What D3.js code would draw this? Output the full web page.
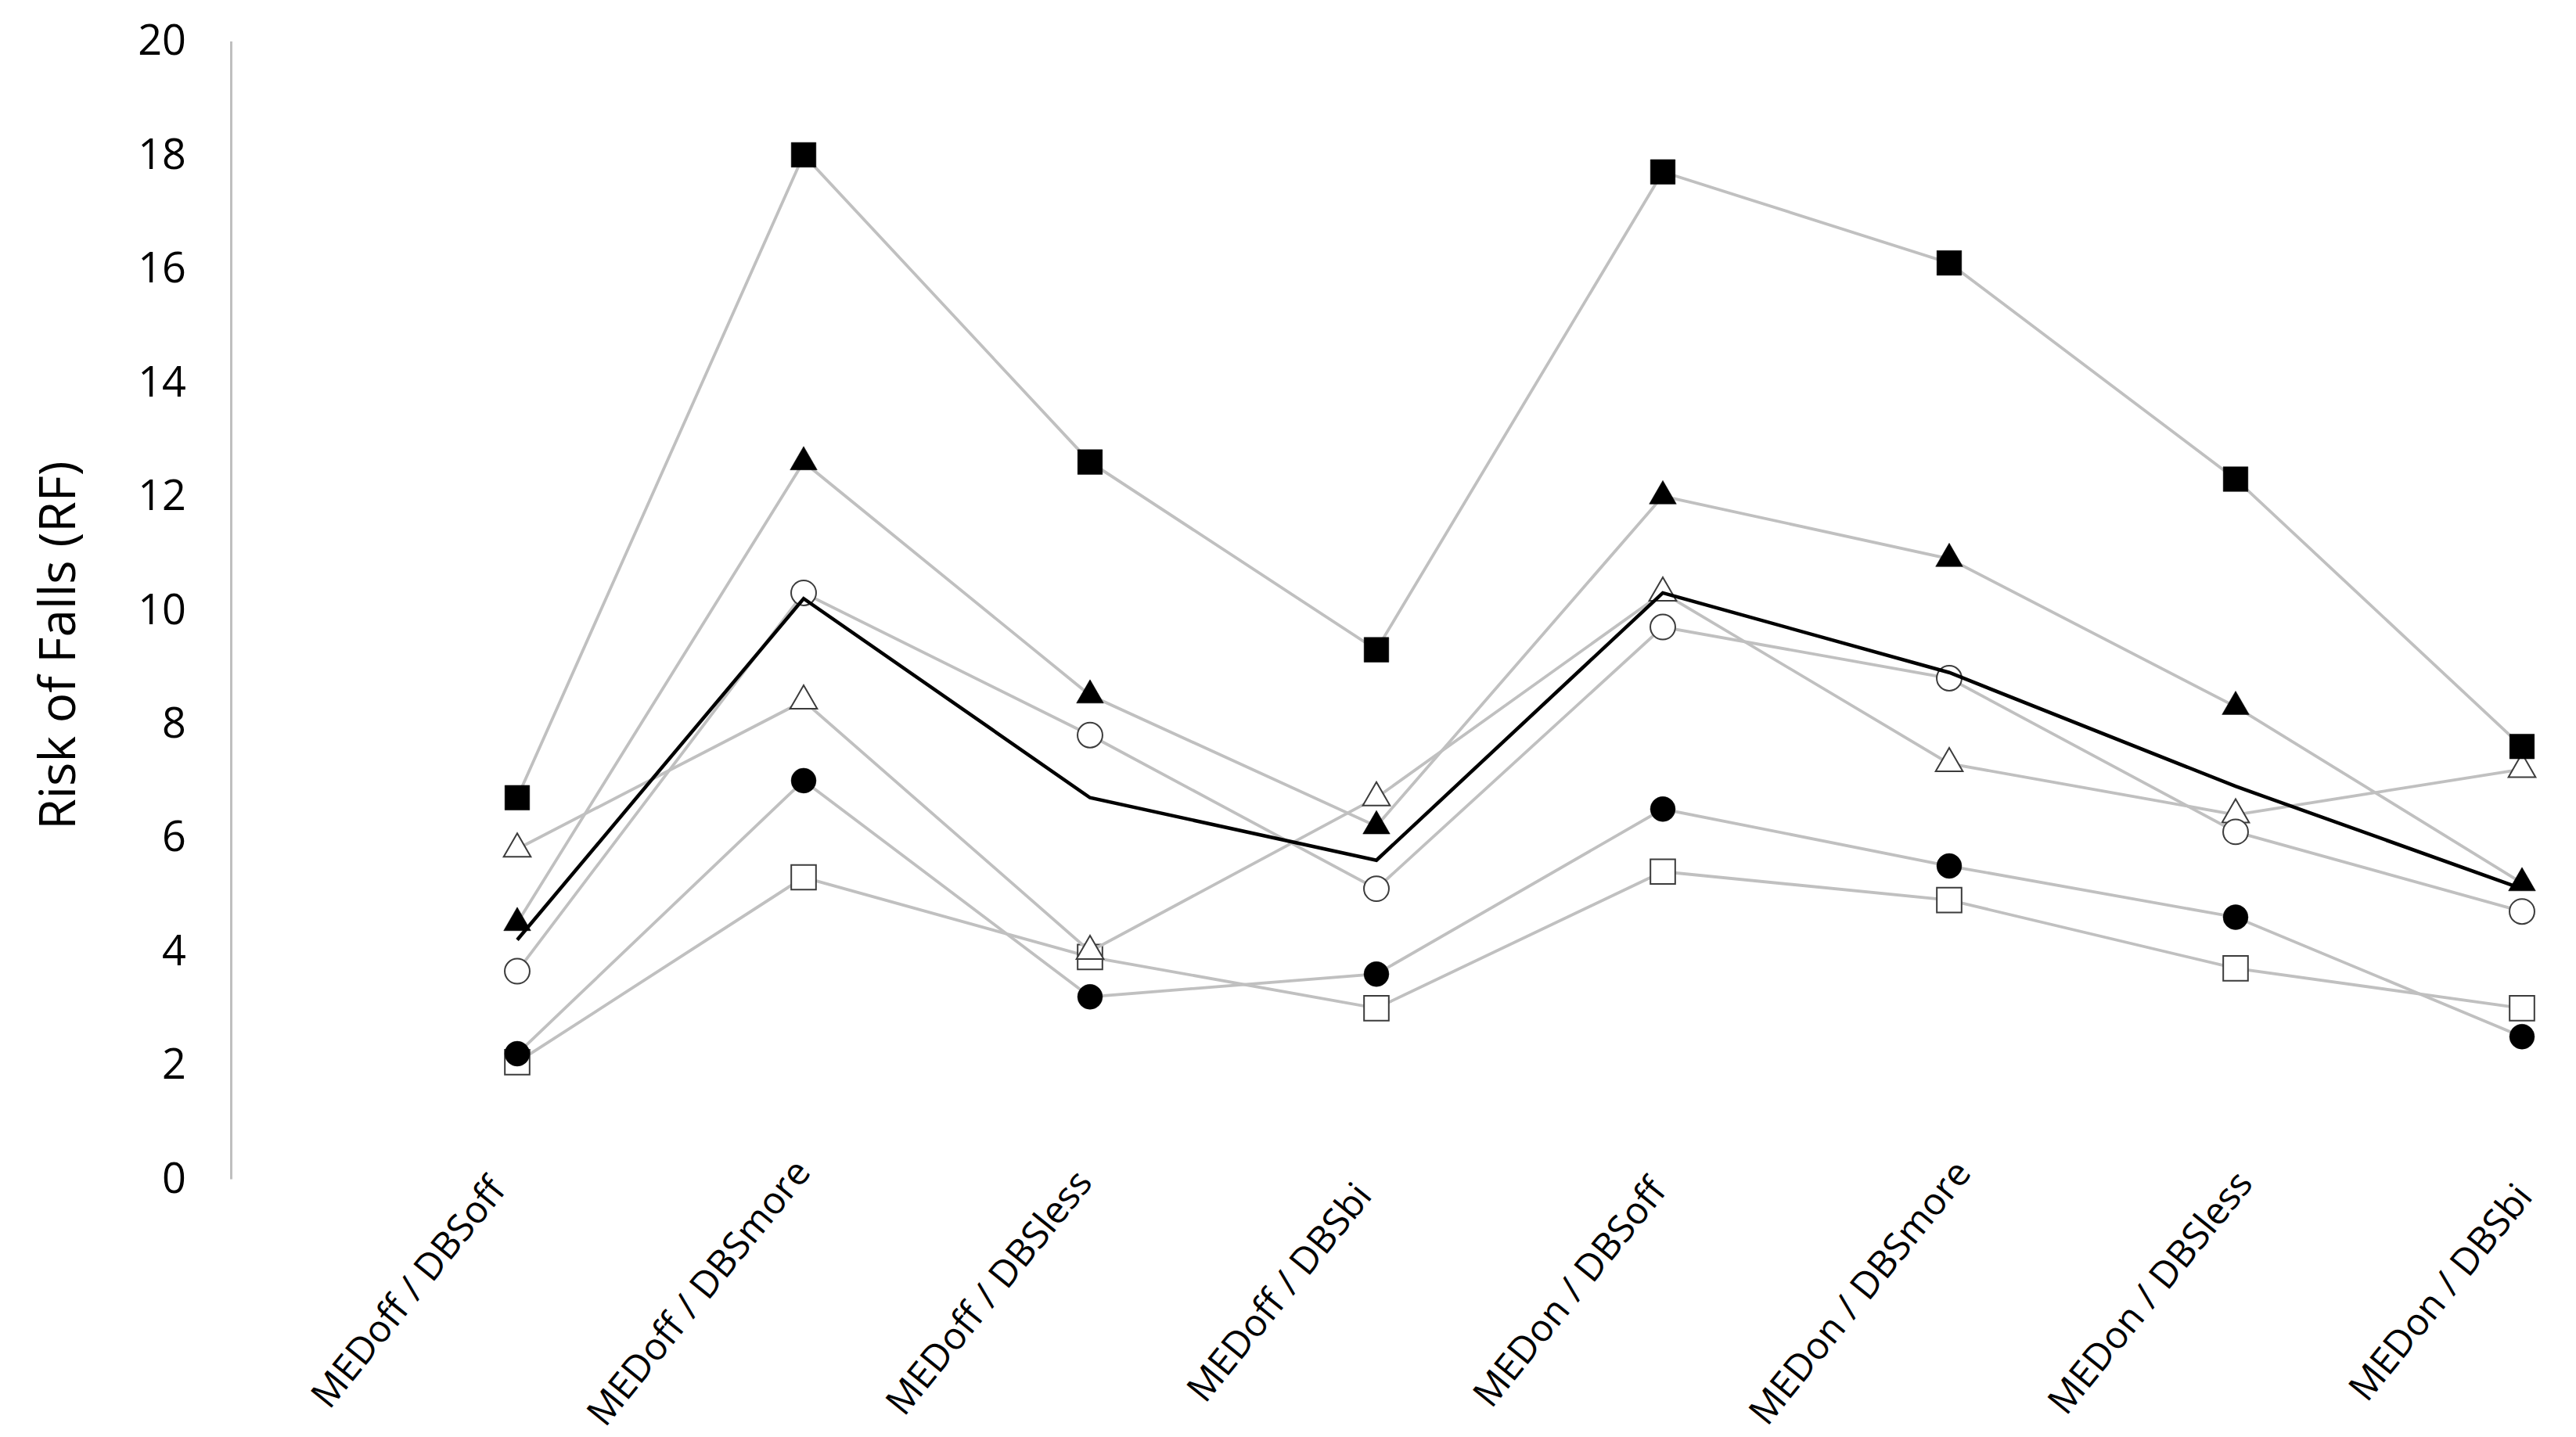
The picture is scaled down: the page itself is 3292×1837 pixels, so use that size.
<!DOCTYPE html>
<html>
<head>
<meta charset="utf-8">
<script src="https://cdn.jsdelivr.net/npm/d3@7"></script>
<style>
  html, body { margin: 0; padding: 0; background: #ffffff; }
  svg { display: block; }
</style>
</head>
<body>
<svg id="chart" width="3292" height="1837"></svg>
<script>
// ---- Data ----
const categories = [
  "MEDoff / DBSoff", "MEDoff / DBSmore", "MEDoff / DBSless", "MEDoff / DBSbi",
  "MEDon / DBSoff", "MEDon / DBSmore", "MEDon / DBSless", "MEDon / DBSbi"
];
const openSquareValues     = [2.05, 5.3, 3.9, 3.0, 5.4, 4.9, 3.7, 3.0];
const openTriangleValues   = [5.8, 8.4, 4.0, 6.7, 10.3, 7.3, 6.4, 7.2];
const openCircleValues     = [3.65, 10.3, 7.8, 5.1, 9.7, 8.8, 6.1, 4.7];
const filledCircleValues   = [2.2, 7.0, 3.2, 3.6, 6.5, 5.5, 4.6, 2.5];
const filledTriangleValues = [4.5, 12.6, 8.5, 6.2, 12.0, 10.9, 8.3, 5.2];
const filledSquareValues   = [6.7, 18.0, 12.6, 9.3, 17.7, 16.1, 12.3, 7.6];
const meanValues           = [4.2, 10.2, 6.7, 5.6, 10.3, 8.9, 6.9, 5.1];
const yTickValues = [0, 2, 4, 6, 8, 10, 12, 14, 16, 18, 20];
const yAxisTitle = "Risk of Falls (RF)";

// ---- Series (drawing order) ----
const series = [
  { values: openSquareValues,     symbol: d3.symbolSquare,   filled: false },
  { values: openTriangleValues,   symbol: d3.symbolTriangle, filled: false },
  { values: openCircleValues,     symbol: d3.symbolCircle,   filled: false },
  { values: filledCircleValues,   symbol: d3.symbolCircle,   filled: true },
  { values: filledTriangleValues, symbol: d3.symbolTriangle, filled: true },
  { values: filledSquareValues,   symbol: d3.symbolSquare,   filled: true }
];

const symbolSizes = new Map([
  [d3.symbolSquare, 1000],
  [d3.symbolCircle, 800],
  [d3.symbolTriangle, 520]
]);

const svg = d3.select("#chart");
svg.append("rect").attr("width", 3292).attr("height", 1837).attr("fill", "#ffffff");

const x = d3.scalePoint().domain(categories).range([661, 3223]);
const y = d3.scaleLinear().domain([0, 20]).range([1507, 52.5]);

// ---- Y axis ----
const yAxis = d3.axisLeft(y).tickValues(yTickValues).tickSize(0).tickSizeOuter(0).tickPadding(57);
const yG = svg.append("g").attr("transform", "translate(295,0)").call(yAxis);
yG.select(".domain").attr("stroke", "#bfbfbf").attr("stroke-width", 3);
yG.selectAll("text")
  .attr("font-family", "'Open Sans', sans-serif")
  .attr("font-size", 54)
  .attr("fill", "#000000");

// ---- X axis (labels only) ----
const labelShift = d3.scaleLinear().domain(x.range()).range([-140, -105]);
const xAxis = d3.axisBottom(x).tickSize(0).tickSizeOuter(0);
const xG = svg.append("g").attr("transform", "translate(0,1507)").call(xAxis);
xG.select(".domain").remove();
xG.selectAll("text")
  .attr("font-family", "'Open Sans', sans-serif")
  .attr("font-size", 48)
  .attr("fill", "#000000")
  .attr("text-anchor", "middle")
  .attr("y", 0)
  .attr("dy", "0.35em")
  .attr("transform", d => `translate(${labelShift(x(d))},145) rotate(-51)`);

// ---- Y axis title ----
svg.append("text")
  .attr("transform", "translate(74,825) rotate(-90)")
  .attr("text-anchor", "middle")
  .attr("dy", "0.35em")
  .attr("font-family", "'Open Sans', sans-serif")
  .attr("font-size", 64)
  .attr("fill", "#000000")
  .text(yAxisTitle);

// ---- Lines & markers ----
const line = d3.line()
  .x((d, i) => x(categories[i]))
  .y(d => y(d));

const plot = svg.append("g");
series.forEach(s => {
  const g = plot.append("g");
  g.append("path")
    .datum(s.values)
    .attr("d", line)
    .attr("fill", "none")
    .attr("stroke", "#c0c0c0")
    .attr("stroke-width", 3.8);
  const sym = d3.symbol().type(s.symbol).size(symbolSizes.get(s.symbol));
  g.selectAll("path.marker")
    .data(s.values)
    .join("path")
    .attr("class", "marker")
    .attr("transform", (d, i) => `translate(${x(categories[i])},${y(d)})`)
    .attr("d", sym)
    .attr("fill", s.filled ? "#000000" : "#ffffff")
    .attr("stroke", s.filled ? "#000000" : "#3c3c3c")
    .attr("stroke-width", s.filled ? 0.5 : 2);
});

// mean line (black, no markers)
plot.append("path")
  .datum(meanValues)
  .attr("d", line)
  .attr("fill", "none")
  .attr("stroke", "#000000")
  .attr("stroke-width", 4.5);
</script>
</body>
</html>
